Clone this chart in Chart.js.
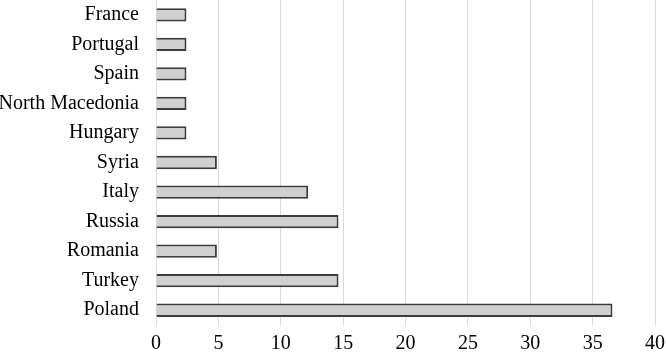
<!DOCTYPE html>
<html><head><meta charset="utf-8">
<script src="https://cdn.jsdelivr.net/npm/chart.js@4/dist/chart.umd.min.js"></script>
<style>html,body{margin:0;padding:0;background:#fff;}#wrap{width:666px;height:356px;}</style>
</head><body><div id="wrap"><canvas id="c" width="666" height="356"></canvas></div>
<script>
const categories = ["France","Portugal","Spain","North Macedonia","Hungary","Syria","Italy","Russia","Romania","Turkey","Poland"];
const values = [2.44,2.44,2.44,2.44,2.44,4.88,12.2,14.63,4.88,14.63,36.59];
const xTicks = [0,5,10,15,20,25,30,35,40];

new Chart(document.getElementById('c'), {
  type: 'bar',
  data: { labels: categories, datasets: [{ data: values, backgroundColor: '#d0d0d0', borderColor: '#3c3c3c', borderWidth: 2, barPercentage: 0.45, categoryPercentage: 1 }] },
  options: {
    indexAxis: 'y', responsive: false, animation: false,
    layout: { padding: { top: 0, right: 11, left: 0, bottom: 0 } },
    plugins: { legend: { display: false }, tooltip: { enabled: false } },
    scales: {
      x: {
        min: 0, max: 40,
        afterBuildTicks: s => { s.ticks = xTicks.map(v => ({ value: v })); },
        afterFit: s => { s.height = 31; s.paddingLeft = 0; s.paddingRight = 0; },
        grid: { color: '#d9d9d9', lineWidth: 1, drawTicks: false },
        border: { display: false },
        ticks: { color: '#000', font: { family: 'Liberation Serif', size: 20 }, padding: 7, maxRotation: 0 }
      },
      y: {
        afterFit: s => { s.width = 156; s.paddingTop = 0; s.paddingBottom = 0; },
        grid: { display: false, drawTicks: false },
        border: { display: true, color: '#d9d9d9', width: 1 },
        ticks: { color: '#000', font: { family: 'Liberation Serif', size: 20 }, padding: 17 }
      }
    }
  }
});
</script></body></html>
